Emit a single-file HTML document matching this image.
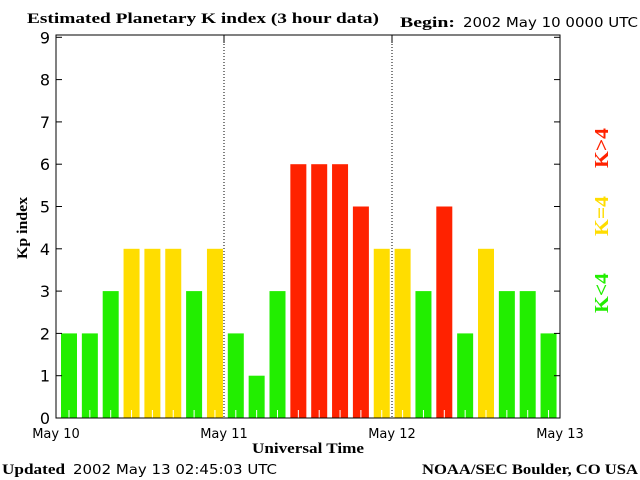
<!DOCTYPE html>
<html><head><meta charset="utf-8"><style>
body{margin:0;background:#fff;}
svg{display:block;}
.s{font-family:"DejaVu Sans","Liberation Sans",sans-serif;font-size:13px;fill:#000;}
.b{font-family:"Liberation Serif",serif;font-weight:bold;font-size:15px;fill:#000;}
</style></head><body>
<svg id="c" width="640" height="480" xmlns="http://www.w3.org/2000/svg">
<text class="b" x="27" y="23" textLength="352" lengthAdjust="spacingAndGlyphs">Estimated Planetary K index (3 hour data)</text>
<text class="b" x="400" y="27" textLength="55" lengthAdjust="spacingAndGlyphs">Begin:</text>
<text class="s" x="463" y="27" textLength="175" lengthAdjust="spacingAndGlyphs">2002 May 10 0000 UTC</text>
<g id="bars"></g>
<g id="axes"></g>
<text class="b" transform="translate(27,228) rotate(-90)" text-anchor="middle" textLength="62" lengthAdjust="spacingAndGlyphs">Kp index</text>
<text class="b" x="308" y="453" text-anchor="middle" textLength="112" lengthAdjust="spacingAndGlyphs">Universal Time</text>
<text class="b" transform="translate(608,148) rotate(-90)" text-anchor="middle" textLength="40" lengthAdjust="spacingAndGlyphs" style="fill:#ff2200;font-size:20px">K&gt;4</text>
<text class="b" transform="translate(608,216) rotate(-90)" text-anchor="middle" textLength="40" lengthAdjust="spacingAndGlyphs" style="fill:#ffdd00;font-size:20px">K=4</text>
<text class="b" transform="translate(608,293) rotate(-90)" text-anchor="middle" textLength="40" lengthAdjust="spacingAndGlyphs" style="fill:#22ee00;font-size:20px">K&lt;4</text>
<text class="b" x="2" y="474" textLength="63" lengthAdjust="spacingAndGlyphs">Updated</text>
<text class="s" x="73" y="474" textLength="204" lengthAdjust="spacingAndGlyphs">2002 May 13 02:45:03 UTC</text>
<text class="b" x="422" y="474" textLength="216" lengthAdjust="spacingAndGlyphs">NOAA/SEC Boulder, CO USA</text>
</svg>
<script>
const kpValues = [2,2,3,4,4,4,3,4, 2,1,3,6,6,6,5,4, 4,3,5,2,4,3,3,2];
const yTicks = [0,1,2,3,4,5,6,7,8,9];
const dayLabels = ["May 10","May 11","May 12","May 13"];
const NS="http://www.w3.org/2000/svg";
const L=56,R=560,T=35,B=418,unit=42.3,slot=20.85;
const y=v=>B-v*unit, x=i=>L+5+i*slot;
const bars=document.getElementById('bars'),axes=document.getElementById('axes');
function mk(tag,at,p){const e=document.createElementNS(NS,tag);for(const k in at)e.setAttribute(k,at[k]);p.appendChild(e);return e;}
kpValues.forEach((v,i)=>{
 const c=v<4?'#22ee00':v==4?'#ffdd00':'#ff2200';
 const r=mk('rect',{x:x(i),y:y(v),width:16,height:B-y(v),fill:c},bars);
 
 
 const t=mk('line',{x1:x(i)+8,x2:x(i)+8,y1:B-8,y2:B,stroke:'#fff'},bars);
 
 
});
const f=mk('rect',{x:L,y:T,width:R-L,height:B-T,fill:'none',stroke:'#000','stroke-width':1},axes);


yTicks.forEach(v=>{
 const l=mk('line',{x1:L,x2:L+6,y1:y(v),y2:y(v),stroke:'#000'},axes);
 
 
 const r=mk('line',{x1:R-6,x2:R,y1:y(v),y2:y(v),stroke:'#000'},axes);
 
 
 const t=mk('text',{x:L-6,y:y(v)+6,'text-anchor':'end',class:'s',style:'font-size:16px'},axes);
 t.textContent=v;
 
 
});
dayLabels.forEach((d,i)=>{
 const xx=L+i*(R-L)/(dayLabels.length-1);
 if(i>0&&i<dayLabels.length-1){
  const g=mk('line',{x1:xx,x2:xx,y1:T,y2:B,stroke:'#000','stroke-dasharray':'1,2'},axes);
  
  
  const tk=mk('line',{x1:xx,x2:xx,y1:T,y2:T+8,stroke:'#000'},axes);
  
  
 }
 const t=mk('text',{x:xx,y:438,'text-anchor':'middle',class:'s'},axes);
 t.textContent=d;
 
 
});
</script>
</body></html>
